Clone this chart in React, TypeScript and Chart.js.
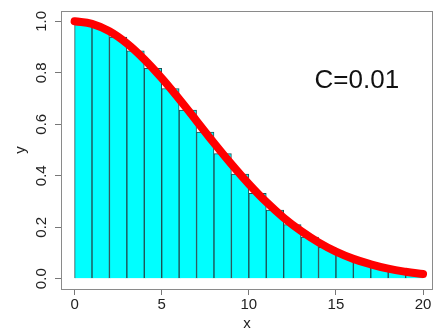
import React, { useEffect, useRef } from "react";
import { Chart, registerables } from "chart.js";

Chart.register(...registerables);

// Histogram bins (left edges), bin width 1
const binStarts = [0, 1, 2, 3, 4, 5, 6, 7, 8, 9, 10, 11, 12, 13, 14, 15, 16, 17, 18, 19];
const binWidth = 1;
// Bar heights
const barHeights = [
  0.997, 0.978, 0.939, 0.885, 0.817, 0.739, 0.655, 0.570, 0.486, 0.406,
  0.332, 0.267, 0.210, 0.162, 0.122, 0.091, 0.066, 0.047, 0.033, 0.022,
];
// Red curve sample points
const curveX = [0, 1, 2, 3, 4, 5, 6, 7, 8, 9, 10, 11, 12, 13, 14, 15, 16, 17, 18, 19, 20];
const curveY = [
  1.0, 0.99, 0.961, 0.914, 0.852, 0.779, 0.698, 0.613, 0.527, 0.445, 0.368,
  0.298, 0.237, 0.185, 0.141, 0.105, 0.077, 0.056, 0.039, 0.027, 0.018,
];
const xTicks = [0, 5, 10, 15, 20];
const yTicks = [0, 0.2, 0.4, 0.6, 0.8, 1.0];
const annotationText = "C=0.01";
const xTitle = "x";
const yTitle = "y";

const FONT = '"Liberation Sans", Arial, Helvetica, sans-serif';

export default function App() {
  const ref = useRef<HTMLCanvasElement>(null);

  useEffect(() => {
    document.body.style.margin = "0";
    const canvas = ref.current!;
    const overlay = {
      id: "overlay",
      afterDraw(chart: any) {
        const { ctx, chartArea, scales } = chart;
        const xs = scales.x;
        const ys = scales.y;
        ctx.save();
        // box
        ctx.strokeStyle = "#8a8a8a";
        ctx.lineWidth = 1;
        ctx.strokeRect(
          Math.round(chartArea.left) + 0.5,
          Math.round(chartArea.top) + 0.5,
          Math.round(chartArea.right - chartArea.left) - 1,
          Math.round(chartArea.bottom - chartArea.top)
        );
        // y tick labels rotated
        ctx.fillStyle = "#222";
        ctx.font = `15px ${FONT}`;
        ctx.textAlign = "center";
        ctx.textBaseline = "middle";
        for (const v of yTicks) {
          const py = ys.getPixelForValue(v);
          ctx.save();
          ctx.translate(42, py);
          ctx.rotate(-Math.PI / 2);
          ctx.fillText(v.toFixed(1), 0, 0);
          ctx.restore();
        }
        // axis titles
        ctx.save();
        ctx.translate(21, (chartArea.top + chartArea.bottom) / 2);
        ctx.rotate(-Math.PI / 2);
        ctx.fillText(yTitle, 0, 0);
        ctx.restore();
        ctx.fillText(xTitle, (chartArea.left + chartArea.right) / 2, 324);
        // annotation
        ctx.font = `26px ${FONT}`;
        ctx.fillStyle = "#111";
        ctx.fillText(annotationText, xs.getPixelForValue(16.2), ys.getPixelForValue(0.77));
        ctx.restore();
      },
    };

    const chart = new Chart(canvas, {
      type: "bar",
      data: {
        datasets: [
          {
            type: "line",
            data: curveX.map((x, i) => ({ x, y: curveY[i] })),
            borderColor: "#ff0000",
            borderWidth: 8,
            borderCapStyle: "round",
            borderJoinStyle: "round",
            pointRadius: 0,
            tension: 0.4,
            fill: false,
            order: 0,
          } as any,
          {
            type: "bar",
            data: binStarts.map((s, i) => ({ x: s + binWidth / 2, y: barHeights[i] })),
            backgroundColor: "#00ffff",
            borderColor: "#1f4f52",
            borderWidth: 1,
            barPercentage: 1,
            categoryPercentage: 1,
            grouped: false,
            order: 1,
          } as any,
        ],
      },
      options: {
        animation: false,
        responsive: false,
        maintainAspectRatio: false,
        layout: { padding: { left: 0, top: 11, right: 2, bottom: 0 } },
        plugins: { legend: { display: false }, tooltip: { enabled: false } },
        scales: {
          x: {
            type: "linear",
            min: -0.78,
            max: 20.57,
            offset: false,
            afterBuildTicks: (s: any) => {
              s.ticks = xTicks.map((v) => ({ value: v }));
            },
            afterFit: (s: any) => {
              s.height = 42;
            },
            grid: {
              offset: false,
              drawOnChartArea: false,
              drawTicks: true,
              tickLength: 6,
              color: "#777",
            },
            border: { display: false },
            ticks: {
              color: "#222",
              font: { family: FONT, size: 15 },
              padding: 1,
              maxRotation: 0,
              autoSkip: false,
              callback: (v: any) => String(v),
            },
          },
          y: {
            type: "linear",
            min: -0.04,
            max: 1.04,
            afterBuildTicks: (s: any) => {
              s.ticks = yTicks.map((v) => ({ value: v }));
            },
            afterFit: (s: any) => {
              s.width = 61;
            },
            grid: {
              drawOnChartArea: false,
              drawTicks: true,
              tickLength: 6,
              color: "#777",
            },
            border: { display: false },
            ticks: { display: false },
          },
        },
      },
      plugins: [overlay],
    });
    return () => chart.destroy();
  }, []);

  return <canvas ref={ref} width={435} height={331} style={{ display: "block" }} />;
}
